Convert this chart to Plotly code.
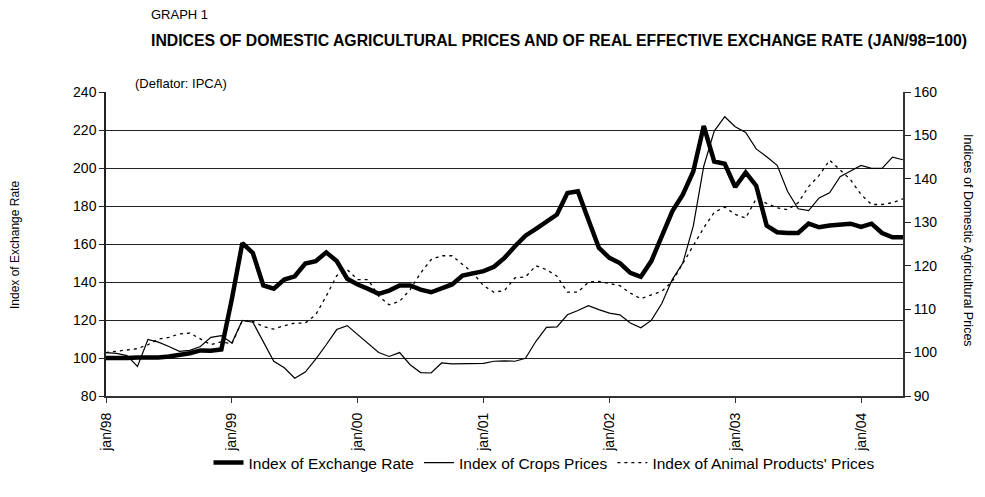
import plotly.graph_objects as go

years = ["98", "99", "00", "01", "02", "03", "04"]
month_names = ["jan", "feb", "mar", "apr", "may", "jun", "jul", "aug", "sep", "oct", "nov", "dec"]
months = [f"{m}/{y}" for y in years for m in month_names][:77]  # jan/98 .. may/04
tick_labels = [f"jan/{y}" for y in years]

exchange_rate = [
    100.0, 99.8, 100.0, 100.3, 100.1, 100.3, 100.8, 101.5, 102.5, 104.0, 103.8, 104.5,
    131.0, 160.5, 155.3, 138.2, 136.5, 141.3, 143.0, 149.7, 150.9, 155.6, 151.0, 141.7,
    138.7, 136.4, 133.8, 135.5, 138.2, 138.2, 136.0, 134.6, 136.4, 138.7, 143.4, 144.8,
    145.7, 148.0, 152.7, 158.8, 164.4, 168.0, 171.9, 175.5, 186.8, 187.7, 172.8, 158.0,
    152.7, 150.0, 144.8, 142.7, 151.0, 164.0, 177.2, 185.9, 198.2, 222.1, 203.4, 202.2,
    190.0, 197.7, 190.7, 169.7, 166.2, 165.8, 165.8, 170.7, 168.8, 169.7, 170.0, 170.7,
    169.0, 170.7, 165.8, 163.5, 163.5,
]

crops_prices = [
    100.0, 99.8, 99.3, 96.8, 103.0, 102.4, 101.4, 100.3, 100.5, 101.4, 103.5, 103.9,
    102.2, 107.4, 107.0, 102.6, 98.0, 96.5, 94.1, 95.5, 98.5, 101.8, 105.3, 106.2,
    104.1, 102.0, 100.0, 99.1, 100.0, 97.2, 95.4, 95.3, 97.6, 97.4, 97.4, 97.4,
    97.5, 98.0, 98.1, 98.0, 98.7, 102.6, 105.8, 105.9, 108.7, 109.7, 110.8, 109.9,
    109.1, 108.7, 106.8, 105.7, 107.4, 111.3, 116.8, 120.6, 129.1, 142.9, 151.0, 154.3,
    152.0, 150.7, 146.9, 145.1, 143.1, 137.1, 133.1, 132.7, 135.6, 136.8, 140.5, 141.8,
    143.1, 142.4, 142.4, 145.0, 144.4,
]

animal_prices = [
    100.0, 100.3, 100.7, 100.9, 101.8, 103.1, 103.5, 104.3, 104.5, 103.1, 101.8, 102.5,
    102.0, 107.4, 107.2, 106.0, 105.4, 106.2, 106.8, 106.8, 108.7, 113.0, 117.7, 119.1,
    116.8, 116.8, 113.0, 111.0, 111.8, 114.5, 118.3, 121.4, 122.3, 122.3, 120.3, 118.3,
    115.4, 113.9, 114.3, 117.2, 117.4, 120.0, 119.1, 117.6, 113.9, 113.9, 116.2, 116.4,
    115.9, 115.4, 113.7, 112.4, 113.3, 114.1, 116.4, 120.6, 124.5, 128.7, 132.3, 133.5,
    131.8, 131.0, 135.4, 134.3, 133.3, 132.9, 134.5, 138.2, 140.8, 144.3, 142.1, 139.8,
    136.4, 134.1, 134.1, 134.5, 135.4,
]

FONT = "Arial, Liberation Sans, sans-serif"

# plot area in page pixels (page body adds 8px offset)
PL, PR, PT, PB = 106, 903, 92, 396
PW, PH = PR - PL, PB - PT


def px(x):
    return (x - PL) / PW


def py(y):
    return (PB - y) / PH


fig = go.Figure()
fig.add_trace(go.Scatter(
    x=months, y=exchange_rate, name="Index of Exchange Rate", mode="lines",
    line=dict(color="black", width=4.5), yaxis="y",
))
fig.add_trace(go.Scatter(
    x=months, y=crops_prices, name="Index of Crops Prices", mode="lines",
    line=dict(color="black", width=1.2), yaxis="y2",
))
fig.add_trace(go.Scatter(
    x=months, y=animal_prices, name="Index of Animal Products' Prices", mode="lines",
    line=dict(color="black", width=1.3, dash="3px,4px"), yaxis="y2",
))

fig.update_layout(
    width=985, height=497,
    margin=dict(l=PL - 8, r=985 - (PL - 8) - PW, t=PT - 8, b=497 - (PT - 8) - PH, autoexpand=False),
    paper_bgcolor="white", plot_bgcolor="white",
    font=dict(family=FONT, color="black"),
    showlegend=True,
    legend=dict(
        orientation="h", x=px(544), xanchor="center", y=py(463), yanchor="middle",
        font=dict(size=15.5, family=FONT), itemwidth=30, tracegroupgap=0,
        bgcolor="rgba(0,0,0,0)",
    ),
    xaxis=dict(
        type="category", categoryorder="array", categoryarray=months,
        range=[0, len(months) - 1],
        tickmode="array", tickvals=tick_labels, ticktext=tick_labels,
        tickangle=-90, tickfont=dict(size=14, family=FONT),
        showline=True, linecolor="#333", linewidth=2,
        ticks="outside", ticklen=5, tickcolor="#333", ticklabelstandoff=4,
        showgrid=False, zeroline=False,
    ),
    yaxis=dict(
        range=[80, 240], dtick=20, tick0=80,
        tickfont=dict(size=14, family=FONT),
        showgrid=True, gridcolor="#222", gridwidth=1,
        showline=True, linecolor="#222", linewidth=1.5,
        ticks="outside", ticklen=5, tickcolor="#222",
        zeroline=False,
    ),
    yaxis2=dict(
        range=[90, 160], dtick=10, tick0=90,
        overlaying="y", side="right",
        tickfont=dict(size=14, family=FONT),
        showgrid=False, showline=True, linecolor="#333", linewidth=2,
        ticks="outside", ticklen=6, tickcolor="#222",
        zeroline=False,
    ),
    annotations=[
        dict(text="GRAPH 1", xref="paper", yref="paper", x=px(149), y=py(15),
             xanchor="left", yanchor="middle", showarrow=False, font=dict(size=13, family=FONT)),
        dict(text="<b>INDICES OF DOMESTIC AGRICULTURAL PRICES AND OF REAL EFFECTIVE EXCHANGE RATE (JAN/98=100)</b>",
             xref="paper", yref="paper", x=px(149), y=py(41),
             xanchor="left", yanchor="middle", showarrow=False, font=dict(size=15.8, family=FONT)),
        dict(text="(Deflator: IPCA)", xref="paper", yref="paper", x=px(133), y=py(84),
             xanchor="left", yanchor="middle", showarrow=False, font=dict(size=13, family=FONT)),
        dict(text="Index of Exchange Rate", xref="paper", yref="paper", x=px(15), y=py(245),
             xanchor="center", yanchor="middle", textangle=-90, showarrow=False, font=dict(size=12, family=FONT)),
        dict(text="Indices of Domestic Agricultural Prices", xref="paper", yref="paper", x=px(968),
             y=py(240), xanchor="center", yanchor="middle", textangle=90, showarrow=False,
             font=dict(size=12.5, family=FONT)),
    ],
)

fig.write_html("out.html")
